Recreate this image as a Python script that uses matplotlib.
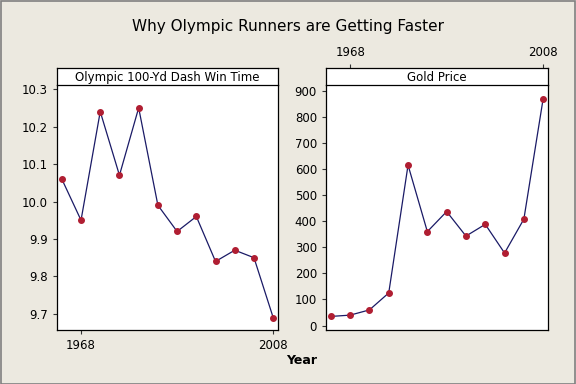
import matplotlib
matplotlib.use("Agg")
import matplotlib.pyplot as plt
from matplotlib.patches import Rectangle

years = [1964, 1968, 1972, 1976, 1980, 1984, 1988, 1992, 1996, 2000, 2004, 2008]
dash_time = [10.06, 9.95, 10.24, 10.07, 10.25, 9.99, 9.92, 9.96, 9.84, 9.87, 9.85, 9.69]
gold_price = [35, 40, 60, 125, 615, 360, 437, 343, 388, 278, 408, 870]

bg = "#ECE9E0"
line_col = "#1a1a66"
dot_col = "#B01E32"
W, H = 576, 384

fig = plt.figure(figsize=(5.76, 3.84), dpi=100, facecolor=bg)
fig.patches.append(Rectangle((0.5 / W, 0.5 / H), 1 - 1.5 / W, 1 - 1.5 / H,
                             transform=fig.transFigure, fill=False,
                             edgecolor="#808080", lw=1.2))

def box(x0, x1, y0, y1):
    return [x0 / W, 1 - y1 / H, (x1 - x0) / W, (y1 - y0) / H]

def panel(x0, x1, title, vals, ylim, yticks, ylabels, top):
    ax = fig.add_axes(box(x0, x1, 85, 330))
    ax.set_facecolor("white")
    ax.plot(years, vals, color=line_col, lw=0.9, zorder=2)
    ax.plot(years, vals, "o", color=dot_col, ms=4, zorder=3)
    ax.set_xlim(1963, 2009)
    ax.set_ylim(*ylim)
    ax.set_yticks(yticks)
    ax.set_yticklabels(ylabels)
    ax.tick_params(labelsize=8.5, length=3, width=0.8, color="#333333")
    for s in ax.spines.values():
        s.set_linewidth(0.9)
    ax.spines["top"].set_visible(False)
    strip = fig.add_axes(box(x0, x1, 68, 85))
    strip.set_facecolor("white")
    strip.set_xlim(1963, 2009)
    strip.set_yticks([])
    for s in strip.spines.values():
        s.set_linewidth(0.9)
    strip.text(0.5, 0.45, title, ha="center", va="center", fontsize=8.5,
               transform=strip.transAxes)
    if top:
        ax.set_xticks([])
        strip.xaxis.tick_top()
        strip.set_xticks([1968, 2008])
        strip.tick_params(labelsize=8.5, length=3, width=0.8, color="#333333")
    else:
        strip.set_xticks([])
        ax.set_xticks([1968, 2008])
    return ax

panel(57, 278, "Olympic 100-Yd Dash Win Time", dash_time,
      (9.657, 10.311), [9.7, 9.8, 9.9, 10.0, 10.1, 10.2, 10.3],
      ["9.7", "9.8", "9.9", "10.0", "10.1", "10.2", "10.3"], False)
panel(326, 548, "Gold Price", gold_price,
      (-17, 922), list(range(0, 901, 100)),
      [str(v) for v in range(0, 901, 100)], True)

fig.text(0.5, 1 - 27 / H, "Why Olympic Runners are Getting Faster",
         ha="center", va="center", fontsize=11)
fig.text(302 / W, 1 - 360 / H, "Year", ha="center", va="center",
         fontsize=9, fontweight="bold")

fig.savefig("out.png", dpi=100, facecolor=bg)
